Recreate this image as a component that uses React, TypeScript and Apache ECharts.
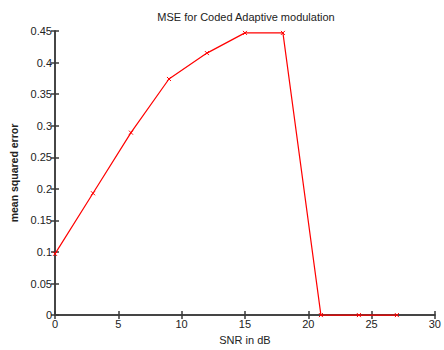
import React, { useEffect, useRef } from "react";
import * as echarts from "echarts";

const snrValues = [0, 3, 6, 9, 12, 15, 18, 21, 24, 27];
const mseValues = [0.097, 0.193, 0.289, 0.374, 0.415, 0.447, 0.447, 0, 0, 0];
const xTicks = [0, 5, 10, 15, 20, 25, 30];
const yTicks = [0, 0.05, 0.1, 0.15, 0.2, 0.25, 0.3, 0.35, 0.4, 0.45];

const FONT = "'Liberation Sans', Arial, sans-serif";
const AXIS_COLOR = "#3a3a3a";
const TEXT_COLOR = "#222";

export default function App() {
  const ref = useRef<HTMLDivElement>(null);
  useEffect(() => {
    document.body.style.margin = "0";
    document.body.style.overflow = "hidden";
    document.documentElement.style.overflow = "hidden";
    if (!ref.current) return;
    const chart = echarts.init(ref.current, null, { renderer: "svg", width: 444, height: 350 });
    const tickCommon = {
      axisLine: { show: true, lineStyle: { color: AXIS_COLOR, width: 1.5 } },
      axisTick: { show: true, inside: true, length: 4, lineStyle: { color: AXIS_COLOR, width: 1.5 } },
      splitLine: { show: false },
    };
    chart.setOption({
      animation: false,
      backgroundColor: "#fff",
      graphic: [
        {
          type: "text",
          x: 246,
          y: 17,
          style: {
            text: "MSE for Coded Adaptive modulation",
            align: "center",
            verticalAlign: "middle",
            fontFamily: FONT,
            fontSize: 11,
            fill: TEXT_COLOR,
          },
        },
      ],
      grid: { left: 55, right: 4, top: 31, bottom: 28, containLabel: false },
      xAxis: [
        {
          type: "value",
          min: 0,
          max: 30,
          interval: 5,
          position: "bottom",
          name: "SNR in dB",
          nameLocation: "middle",
          nameGap: 16,
          nameTextStyle: { fontFamily: FONT, fontSize: 11, color: TEXT_COLOR },
          axisLabel: {
            fontFamily: FONT,
            fontSize: 11,
            color: TEXT_COLOR,
            margin: 3,
            formatter: (v: number) => (xTicks.includes(v) ? String(v) : ""),
          },
          ...tickCommon,
        },
        {
          type: "value",
          min: 0,
          max: 30,
          interval: 5,
          position: "top",
          axisLabel: { show: false },
          ...tickCommon,
        },
      ],
      yAxis: [
        {
          type: "value",
          min: 0,
          max: 0.45,
          interval: 0.05,
          position: "left",
          name: "mean squared error",
          nameLocation: "middle",
          nameGap: 36,
          nameTextStyle: { fontFamily: FONT, fontSize: 10.5, fontWeight: "bold", color: TEXT_COLOR },
          axisLabel: {
            fontFamily: FONT,
            fontSize: 11,
            color: TEXT_COLOR,
            margin: 3,
            formatter: (v: number) => {
              const t = yTicks.find((y) => Math.abs(y - v) < 1e-9);
              return t === undefined ? "" : String(t);
            },
          },
          ...tickCommon,
        },
        {
          type: "value",
          min: 0,
          max: 0.45,
          interval: 0.05,
          position: "right",
          axisLabel: { show: false },
          ...tickCommon,
        },
      ],
      series: [
        {
          type: "line",
          data: snrValues.map((x, i) => [x, mseValues[i]]),
          symbol: "path://M0 0L10 10M10 0L0 10",
          symbolSize: 4,
          showSymbol: true,
          lineStyle: { color: "#ff0000", width: 1.2 },
          itemStyle: { color: "#ff0000", borderColor: "#ff0000", borderWidth: 1 },
          clip: false,
        },
      ],
    });
    return () => chart.dispose();
  }, []);
  return <div ref={ref} style={{ width: 444, height: 350, overflow: "hidden" }} />;
}
